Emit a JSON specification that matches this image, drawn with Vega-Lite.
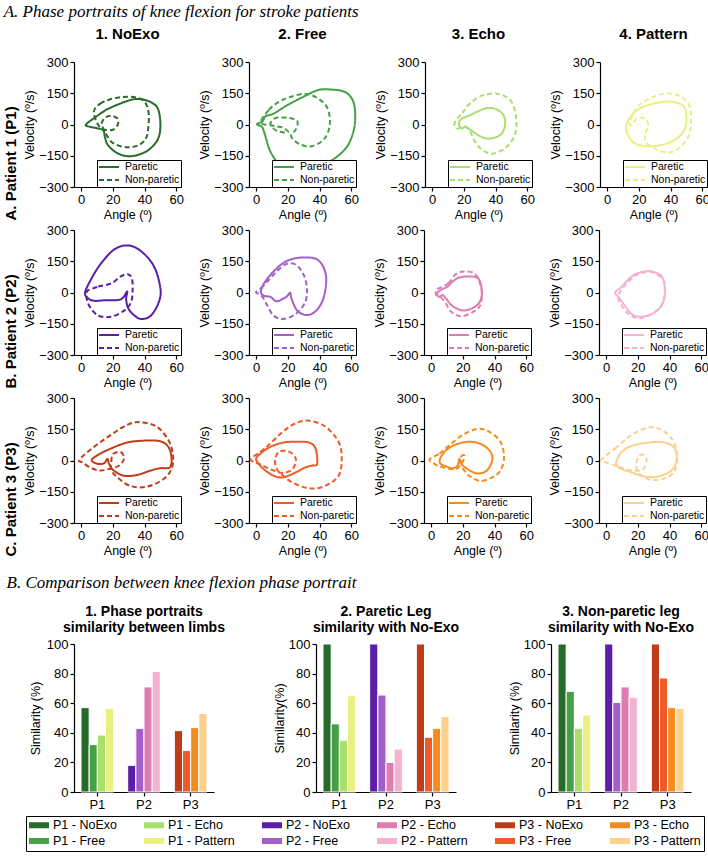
{
"$schema":"https://vega.github.io/schema/vega-lite/v6.json",
"background":"white",
"padding":{"left":3,"top":3,"right":0,"bottom":3},
"config":{
 "font":"Liberation Sans",
 "view":{"stroke":null},
 "axis":{"labelFont":"Liberation Sans","labelFontSize":13,"labelColor":"black","titleFont":"Liberation Sans","titleFontSize":12.5,"titleFontWeight":"normal","titleColor":"black","domainColor":"black","domainWidth":1.2,"tickColor":"black","tickWidth":1.2,"tickSize":4,"grid":false,"labelPadding":2,"titlePadding":2},
 "title":{"font":"Liberation Sans","fontSize":15,"fontWeight":"bold","color":"black","offset":14},
 "legend":{"orient":"bottom-right","offset":0,"strokeColor":"black","fillColor":"white","padding":1,"labelFont":"Liberation Sans","labelFontSize":10.5,"labelColor":"black","labelOffset":5,"symbolType":"stroke","symbolSize":400,"symbolStrokeWidth":2,"rowPadding":1,"clipHeight":12},
 "concat":{"spacing":14}
},
"datasets":{
"pp":[
{"p":"P1","c":"NoExo","l":"Paretic","i":0,"a":3,"v":0},{"p":"P1","c":"NoExo","l":"Paretic","i":1,"a":9,"v":35},{"p":"P1","c":"NoExo","l":"Paretic","i":2,"a":17,"v":75},{"p":"P1","c":"NoExo","l":"Paretic","i":3,"a":30,"v":115},{"p":"P1","c":"NoExo","l":"Paretic","i":4,"a":37,"v":122},{"p":"P1","c":"NoExo","l":"Paretic","i":5,"a":44,"v":107},{"p":"P1","c":"NoExo","l":"Paretic","i":6,"a":48.5,"v":75},{"p":"P1","c":"NoExo","l":"Paretic","i":7,"a":50,"v":0},{"p":"P1","c":"NoExo","l":"Paretic","i":8,"a":48.5,"v":-69},{"p":"P1","c":"NoExo","l":"Paretic","i":9,"a":42,"v":-125},{"p":"P1","c":"NoExo","l":"Paretic","i":10,"a":32,"v":-152},{"p":"P1","c":"NoExo","l":"Paretic","i":11,"a":23.5,"v":-140},{"p":"P1","c":"NoExo","l":"Paretic","i":12,"a":17,"v":-100},{"p":"P1","c":"NoExo","l":"Paretic","i":13,"a":15,"v":-60},{"p":"P1","c":"NoExo","l":"Paretic","i":14,"a":14,"v":-28},{"p":"P1","c":"NoExo","l":"Paretic","i":15,"a":10,"v":-18},{"p":"P1","c":"NoExo","l":"Paretic","i":16,"a":5,"v":-10},
{"p":"P1","c":"NoExo","l":"Non-paretic","i":0,"a":8,"v":60},{"p":"P1","c":"NoExo","l":"Non-paretic","i":1,"a":12,"v":100},{"p":"P1","c":"NoExo","l":"Non-paretic","i":2,"a":18,"v":120},{"p":"P1","c":"NoExo","l":"Non-paretic","i":3,"a":26,"v":132},{"p":"P1","c":"NoExo","l":"Non-paretic","i":4,"a":34,"v":131},{"p":"P1","c":"NoExo","l":"Non-paretic","i":5,"a":40,"v":110},{"p":"P1","c":"NoExo","l":"Non-paretic","i":6,"a":42.5,"v":60},{"p":"P1","c":"NoExo","l":"Non-paretic","i":7,"a":42.5,"v":-5},{"p":"P1","c":"NoExo","l":"Non-paretic","i":8,"a":41,"v":-65},{"p":"P1","c":"NoExo","l":"Non-paretic","i":9,"a":36,"v":-100},{"p":"P1","c":"NoExo","l":"Non-paretic","i":10,"a":28,"v":-109},{"p":"P1","c":"NoExo","l":"Non-paretic","i":11,"a":20,"v":-88},{"p":"P1","c":"NoExo","l":"Non-paretic","i":12,"a":16,"v":-50},{"p":"P1","c":"NoExo","l":"Non-paretic","i":13,"a":14,"v":-20},{"p":"P1","c":"NoExo","l":"Non-paretic","i":14,"a":13,"v":5},{"p":"P1","c":"NoExo","l":"Non-paretic","i":15,"a":15,"v":32},{"p":"P1","c":"NoExo","l":"Non-paretic","i":16,"a":19,"v":42},{"p":"P1","c":"NoExo","l":"Non-paretic","i":17,"a":23,"v":28},{"p":"P1","c":"NoExo","l":"Non-paretic","i":18,"a":23,"v":-3},{"p":"P1","c":"NoExo","l":"Non-paretic","i":19,"a":20,"v":-25},{"p":"P1","c":"NoExo","l":"Non-paretic","i":20,"a":15,"v":-25},{"p":"P1","c":"NoExo","l":"Non-paretic","i":21,"a":11,"v":-5},
{"p":"P1","c":"Free","l":"Paretic","i":0,"a":0.5,"v":2},{"p":"P1","c":"Free","l":"Paretic","i":1,"a":4,"v":15},{"p":"P1","c":"Free","l":"Paretic","i":2,"a":6,"v":40},{"p":"P1","c":"Free","l":"Paretic","i":3,"a":11,"v":52},{"p":"P1","c":"Free","l":"Paretic","i":4,"a":19,"v":90},{"p":"P1","c":"Free","l":"Paretic","i":5,"a":29,"v":130},{"p":"P1","c":"Free","l":"Paretic","i":6,"a":39,"v":165},{"p":"P1","c":"Free","l":"Paretic","i":7,"a":47,"v":168},{"p":"P1","c":"Free","l":"Paretic","i":8,"a":56,"v":156},{"p":"P1","c":"Free","l":"Paretic","i":9,"a":61,"v":115},{"p":"P1","c":"Free","l":"Paretic","i":10,"a":62.5,"v":50},{"p":"P1","c":"Free","l":"Paretic","i":11,"a":61.5,"v":-30},{"p":"P1","c":"Free","l":"Paretic","i":12,"a":57,"v":-110},{"p":"P1","c":"Free","l":"Paretic","i":13,"a":48,"v":-170},{"p":"P1","c":"Free","l":"Paretic","i":14,"a":37,"v":-205},{"p":"P1","c":"Free","l":"Paretic","i":15,"a":25,"v":-212},{"p":"P1","c":"Free","l":"Paretic","i":16,"a":15,"v":-190},{"p":"P1","c":"Free","l":"Paretic","i":17,"a":9,"v":-130},{"p":"P1","c":"Free","l":"Paretic","i":18,"a":6,"v":-60},{"p":"P1","c":"Free","l":"Paretic","i":19,"a":4,"v":-15},{"p":"P1","c":"Free","l":"Paretic","i":20,"a":2,"v":-5},
{"p":"P1","c":"Free","l":"Non-paretic","i":0,"a":3,"v":10},{"p":"P1","c":"Free","l":"Non-paretic","i":1,"a":8,"v":70},{"p":"P1","c":"Free","l":"Non-paretic","i":2,"a":14,"v":107},{"p":"P1","c":"Free","l":"Non-paretic","i":3,"a":21,"v":131},{"p":"P1","c":"Free","l":"Non-paretic","i":4,"a":31,"v":147},{"p":"P1","c":"Free","l":"Non-paretic","i":5,"a":39,"v":125},{"p":"P1","c":"Free","l":"Non-paretic","i":6,"a":45,"v":78},{"p":"P1","c":"Free","l":"Non-paretic","i":7,"a":46.5,"v":0},{"p":"P1","c":"Free","l":"Non-paretic","i":8,"a":43,"v":-69},{"p":"P1","c":"Free","l":"Non-paretic","i":9,"a":35,"v":-104},{"p":"P1","c":"Free","l":"Non-paretic","i":10,"a":27,"v":-93},{"p":"P1","c":"Free","l":"Non-paretic","i":11,"a":22,"v":-55},{"p":"P1","c":"Free","l":"Non-paretic","i":12,"a":25,"v":-25},{"p":"P1","c":"Free","l":"Non-paretic","i":13,"a":26,"v":15},{"p":"P1","c":"Free","l":"Non-paretic","i":14,"a":20,"v":32},{"p":"P1","c":"Free","l":"Non-paretic","i":15,"a":12,"v":30},{"p":"P1","c":"Free","l":"Non-paretic","i":16,"a":9,"v":0},{"p":"P1","c":"Free","l":"Non-paretic","i":17,"a":13,"v":-30},{"p":"P1","c":"Free","l":"Non-paretic","i":18,"a":20,"v":-38},{"p":"P1","c":"Free","l":"Non-paretic","i":19,"a":17,"v":-15},{"p":"P1","c":"Free","l":"Non-paretic","i":20,"a":10,"v":-5},
{"p":"P1","c":"Echo","l":"Paretic","i":0,"a":17.5,"v":19},{"p":"P1","c":"Echo","l":"Paretic","i":1,"a":20,"v":33},{"p":"P1","c":"Echo","l":"Paretic","i":2,"a":24,"v":45},{"p":"P1","c":"Echo","l":"Paretic","i":3,"a":28,"v":60},{"p":"P1","c":"Echo","l":"Paretic","i":4,"a":34,"v":78},{"p":"P1","c":"Echo","l":"Paretic","i":5,"a":40,"v":75},{"p":"P1","c":"Echo","l":"Paretic","i":6,"a":45,"v":45},{"p":"P1","c":"Echo","l":"Paretic","i":7,"a":46,"v":-5},{"p":"P1","c":"Echo","l":"Paretic","i":8,"a":43,"v":-50},{"p":"P1","c":"Echo","l":"Paretic","i":9,"a":36,"v":-68},{"p":"P1","c":"Echo","l":"Paretic","i":10,"a":30,"v":-55},{"p":"P1","c":"Echo","l":"Paretic","i":11,"a":24,"v":-25},{"p":"P1","c":"Echo","l":"Paretic","i":12,"a":21,"v":-10},{"p":"P1","c":"Echo","l":"Paretic","i":13,"a":19,"v":-18},{"p":"P1","c":"Echo","l":"Paretic","i":14,"a":17,"v":-5},
{"p":"P1","c":"Echo","l":"Non-paretic","i":0,"a":16,"v":30},{"p":"P1","c":"Echo","l":"Non-paretic","i":1,"a":19,"v":55},{"p":"P1","c":"Echo","l":"Non-paretic","i":2,"a":23.6,"v":99},{"p":"P1","c":"Echo","l":"Non-paretic","i":3,"a":31.8,"v":140},{"p":"P1","c":"Echo","l":"Non-paretic","i":4,"a":42,"v":147},{"p":"P1","c":"Echo","l":"Non-paretic","i":5,"a":50,"v":110},{"p":"P1","c":"Echo","l":"Non-paretic","i":6,"a":53,"v":30},{"p":"P1","c":"Echo","l":"Non-paretic","i":7,"a":52.4,"v":-45},{"p":"P1","c":"Echo","l":"Non-paretic","i":8,"a":47,"v":-108},{"p":"P1","c":"Echo","l":"Non-paretic","i":9,"a":38,"v":-140},{"p":"P1","c":"Echo","l":"Non-paretic","i":10,"a":31,"v":-118},{"p":"P1","c":"Echo","l":"Non-paretic","i":11,"a":26.7,"v":-78},{"p":"P1","c":"Echo","l":"Non-paretic","i":12,"a":23.6,"v":-30},{"p":"P1","c":"Echo","l":"Non-paretic","i":13,"a":20,"v":-10},{"p":"P1","c":"Echo","l":"Non-paretic","i":14,"a":16,"v":-20},{"p":"P1","c":"Echo","l":"Non-paretic","i":15,"a":14,"v":0},
{"p":"P1","c":"Pattern","l":"Paretic","i":0,"a":12.5,"v":5},{"p":"P1","c":"Pattern","l":"Paretic","i":1,"a":15,"v":40},{"p":"P1","c":"Pattern","l":"Paretic","i":2,"a":20,"v":75},{"p":"P1","c":"Pattern","l":"Paretic","i":3,"a":28.7,"v":99},{"p":"P1","c":"Pattern","l":"Paretic","i":4,"a":39,"v":110},{"p":"P1","c":"Pattern","l":"Paretic","i":5,"a":47.5,"v":92},{"p":"P1","c":"Pattern","l":"Paretic","i":6,"a":50,"v":43},{"p":"P1","c":"Pattern","l":"Paretic","i":7,"a":48.5,"v":-29},{"p":"P1","c":"Pattern","l":"Paretic","i":8,"a":41,"v":-81},{"p":"P1","c":"Pattern","l":"Paretic","i":9,"a":29,"v":-104},{"p":"P1","c":"Pattern","l":"Paretic","i":10,"a":18,"v":-93},{"p":"P1","c":"Pattern","l":"Paretic","i":11,"a":13,"v":-50},{"p":"P1","c":"Pattern","l":"Paretic","i":12,"a":12,"v":-15},
{"p":"P1","c":"Pattern","l":"Non-paretic","i":0,"a":14,"v":10},{"p":"P1","c":"Pattern","l":"Non-paretic","i":1,"a":17,"v":55},{"p":"P1","c":"Pattern","l":"Non-paretic","i":2,"a":22,"v":105},{"p":"P1","c":"Pattern","l":"Non-paretic","i":3,"a":35,"v":147},{"p":"P1","c":"Pattern","l":"Non-paretic","i":4,"a":45,"v":139},{"p":"P1","c":"Pattern","l":"Non-paretic","i":5,"a":51.7,"v":92},{"p":"P1","c":"Pattern","l":"Non-paretic","i":6,"a":53,"v":11},{"p":"P1","c":"Pattern","l":"Non-paretic","i":7,"a":50.6,"v":-69},{"p":"P1","c":"Pattern","l":"Non-paretic","i":8,"a":43,"v":-125},{"p":"P1","c":"Pattern","l":"Non-paretic","i":9,"a":36,"v":-132},{"p":"P1","c":"Pattern","l":"Non-paretic","i":10,"a":28.7,"v":-110},{"p":"P1","c":"Pattern","l":"Non-paretic","i":11,"a":24.5,"v":-85},{"p":"P1","c":"Pattern","l":"Non-paretic","i":12,"a":24,"v":-45},{"p":"P1","c":"Pattern","l":"Non-paretic","i":13,"a":26,"v":-10},{"p":"P1","c":"Pattern","l":"Non-paretic","i":14,"a":25,"v":20},{"p":"P1","c":"Pattern","l":"Non-paretic","i":15,"a":21,"v":33},{"p":"P1","c":"Pattern","l":"Non-paretic","i":16,"a":17,"v":15},{"p":"P1","c":"Pattern","l":"Non-paretic","i":17,"a":16,"v":-5},
{"p":"P2","c":"NoExo","l":"Paretic","i":0,"a":2.5,"v":0},{"p":"P2","c":"NoExo","l":"Paretic","i":1,"a":6.6,"v":68},{"p":"P2","c":"NoExo","l":"Paretic","i":2,"a":12.8,"v":142},{"p":"P2","c":"NoExo","l":"Paretic","i":3,"a":21,"v":207},{"p":"P2","c":"NoExo","l":"Paretic","i":4,"a":29.4,"v":226},{"p":"P2","c":"NoExo","l":"Paretic","i":5,"a":37.7,"v":199},{"p":"P2","c":"NoExo","l":"Paretic","i":6,"a":46,"v":125},{"p":"P2","c":"NoExo","l":"Paretic","i":7,"a":50,"v":20},{"p":"P2","c":"NoExo","l":"Paretic","i":8,"a":49,"v":-46},{"p":"P2","c":"NoExo","l":"Paretic","i":9,"a":44,"v":-111},{"p":"P2","c":"NoExo","l":"Paretic","i":10,"a":37.7,"v":-127},{"p":"P2","c":"NoExo","l":"Paretic","i":11,"a":32.5,"v":-103},{"p":"P2","c":"NoExo","l":"Paretic","i":12,"a":29.4,"v":-70},{"p":"P2","c":"NoExo","l":"Paretic","i":13,"a":28.4,"v":-29},{"p":"P2","c":"NoExo","l":"Paretic","i":14,"a":29,"v":5},{"p":"P2","c":"NoExo","l":"Paretic","i":15,"a":25,"v":-33},{"p":"P2","c":"NoExo","l":"Paretic","i":16,"a":15,"v":-37},{"p":"P2","c":"NoExo","l":"Paretic","i":17,"a":8.7,"v":-40},{"p":"P2","c":"NoExo","l":"Paretic","i":18,"a":4.6,"v":-29},
{"p":"P2","c":"NoExo","l":"Non-paretic","i":0,"a":4.6,"v":11},{"p":"P2","c":"NoExo","l":"Non-paretic","i":1,"a":10.8,"v":28},{"p":"P2","c":"NoExo","l":"Non-paretic","i":2,"a":19,"v":44},{"p":"P2","c":"NoExo","l":"Non-paretic","i":3,"a":25,"v":77},{"p":"P2","c":"NoExo","l":"Non-paretic","i":4,"a":29.4,"v":88},{"p":"P2","c":"NoExo","l":"Non-paretic","i":5,"a":32,"v":68},{"p":"P2","c":"NoExo","l":"Non-paretic","i":6,"a":32.5,"v":11},{"p":"P2","c":"NoExo","l":"Non-paretic","i":7,"a":31.5,"v":-46},{"p":"P2","c":"NoExo","l":"Non-paretic","i":8,"a":27.3,"v":-86},{"p":"P2","c":"NoExo","l":"Non-paretic","i":9,"a":19,"v":-116},{"p":"P2","c":"NoExo","l":"Non-paretic","i":10,"a":10.8,"v":-111},{"p":"P2","c":"NoExo","l":"Non-paretic","i":11,"a":5.6,"v":-70},{"p":"P2","c":"NoExo","l":"Non-paretic","i":12,"a":3.5,"v":-29},{"p":"P2","c":"NoExo","l":"Non-paretic","i":13,"a":3.5,"v":0},
{"p":"P2","c":"Free","l":"Paretic","i":0,"a":3,"v":3},{"p":"P2","c":"Free","l":"Paretic","i":1,"a":5,"v":44},{"p":"P2","c":"Free","l":"Paretic","i":2,"a":11,"v":101},{"p":"P2","c":"Free","l":"Paretic","i":3,"a":19,"v":150},{"p":"P2","c":"Free","l":"Paretic","i":4,"a":29,"v":168},{"p":"P2","c":"Free","l":"Paretic","i":5,"a":39,"v":156},{"p":"P2","c":"Free","l":"Paretic","i":6,"a":44,"v":85},{"p":"P2","c":"Free","l":"Paretic","i":7,"a":43,"v":-13},{"p":"P2","c":"Free","l":"Paretic","i":8,"a":39,"v":-78},{"p":"P2","c":"Free","l":"Paretic","i":9,"a":33,"v":-108},{"p":"P2","c":"Free","l":"Paretic","i":10,"a":27,"v":-95},{"p":"P2","c":"Free","l":"Paretic","i":11,"a":24,"v":-62},{"p":"P2","c":"Free","l":"Paretic","i":12,"a":22,"v":-21},{"p":"P2","c":"Free","l":"Paretic","i":13,"a":21.4,"v":0},{"p":"P2","c":"Free","l":"Paretic","i":14,"a":19,"v":-21},{"p":"P2","c":"Free","l":"Paretic","i":15,"a":13,"v":-42},{"p":"P2","c":"Free","l":"Paretic","i":16,"a":9,"v":-21},{"p":"P2","c":"Free","l":"Paretic","i":17,"a":5,"v":-16},
{"p":"P2","c":"Free","l":"Non-paretic","i":0,"a":0,"v":3},{"p":"P2","c":"Free","l":"Non-paretic","i":1,"a":3,"v":20},{"p":"P2","c":"Free","l":"Non-paretic","i":2,"a":7,"v":52},{"p":"P2","c":"Free","l":"Non-paretic","i":3,"a":13,"v":101},{"p":"P2","c":"Free","l":"Non-paretic","i":4,"a":19,"v":137},{"p":"P2","c":"Free","l":"Non-paretic","i":5,"a":25,"v":134},{"p":"P2","c":"Free","l":"Non-paretic","i":6,"a":30,"v":85},{"p":"P2","c":"Free","l":"Non-paretic","i":7,"a":32,"v":20},{"p":"P2","c":"Free","l":"Non-paretic","i":8,"a":31,"v":-46},{"p":"P2","c":"Free","l":"Non-paretic","i":9,"a":25,"v":-103},{"p":"P2","c":"Free","l":"Non-paretic","i":10,"a":17,"v":-127},{"p":"P2","c":"Free","l":"Non-paretic","i":11,"a":11,"v":-111},{"p":"P2","c":"Free","l":"Non-paretic","i":12,"a":7,"v":-62},{"p":"P2","c":"Free","l":"Non-paretic","i":13,"a":4,"v":-21},{"p":"P2","c":"Free","l":"Non-paretic","i":14,"a":1,"v":-5},
{"p":"P2","c":"Echo","l":"Paretic","i":0,"a":4,"v":0},{"p":"P2","c":"Echo","l":"Paretic","i":1,"a":7,"v":16},{"p":"P2","c":"Echo","l":"Paretic","i":2,"a":10.4,"v":28},{"p":"P2","c":"Echo","l":"Paretic","i":3,"a":13.5,"v":52},{"p":"P2","c":"Echo","l":"Paretic","i":4,"a":17.7,"v":72},{"p":"P2","c":"Echo","l":"Paretic","i":5,"a":24,"v":77},{"p":"P2","c":"Echo","l":"Paretic","i":6,"a":30,"v":65},{"p":"P2","c":"Echo","l":"Paretic","i":7,"a":32,"v":3},{"p":"P2","c":"Echo","l":"Paretic","i":8,"a":30.6,"v":-46},{"p":"P2","c":"Echo","l":"Paretic","i":9,"a":26,"v":-75},{"p":"P2","c":"Echo","l":"Paretic","i":10,"a":19.8,"v":-86},{"p":"P2","c":"Echo","l":"Paretic","i":11,"a":13.5,"v":-65},{"p":"P2","c":"Echo","l":"Paretic","i":12,"a":9.4,"v":-29},{"p":"P2","c":"Echo","l":"Paretic","i":13,"a":7.3,"v":-13},{"p":"P2","c":"Echo","l":"Paretic","i":14,"a":5,"v":-20},{"p":"P2","c":"Echo","l":"Paretic","i":15,"a":3,"v":-8},
{"p":"P2","c":"Echo","l":"Non-paretic","i":0,"a":6,"v":23},{"p":"P2","c":"Echo","l":"Non-paretic","i":1,"a":11,"v":44},{"p":"P2","c":"Echo","l":"Non-paretic","i":2,"a":15.6,"v":88},{"p":"P2","c":"Echo","l":"Non-paretic","i":3,"a":21,"v":101},{"p":"P2","c":"Echo","l":"Non-paretic","i":4,"a":27,"v":93},{"p":"P2","c":"Echo","l":"Non-paretic","i":5,"a":30,"v":60},{"p":"P2","c":"Echo","l":"Non-paretic","i":6,"a":32,"v":3},{"p":"P2","c":"Echo","l":"Non-paretic","i":7,"a":31,"v":-62},{"p":"P2","c":"Echo","l":"Non-paretic","i":8,"a":26,"v":-95},{"p":"P2","c":"Echo","l":"Non-paretic","i":9,"a":18.8,"v":-114},{"p":"P2","c":"Echo","l":"Non-paretic","i":10,"a":12.5,"v":-91},{"p":"P2","c":"Echo","l":"Non-paretic","i":11,"a":9.4,"v":-54},{"p":"P2","c":"Echo","l":"Non-paretic","i":12,"a":6,"v":-21},{"p":"P2","c":"Echo","l":"Non-paretic","i":13,"a":3,"v":-5},{"p":"P2","c":"Echo","l":"Non-paretic","i":14,"a":3.5,"v":16},
{"p":"P2","c":"Pattern","l":"Paretic","i":0,"a":5.6,"v":0},{"p":"P2","c":"Pattern","l":"Paretic","i":1,"a":9.8,"v":28},{"p":"P2","c":"Pattern","l":"Paretic","i":2,"a":16,"v":77},{"p":"P2","c":"Pattern","l":"Paretic","i":3,"a":22.4,"v":98},{"p":"P2","c":"Pattern","l":"Paretic","i":4,"a":28.7,"v":101},{"p":"P2","c":"Pattern","l":"Paretic","i":5,"a":35,"v":77},{"p":"P2","c":"Pattern","l":"Paretic","i":6,"a":37,"v":20},{"p":"P2","c":"Pattern","l":"Paretic","i":7,"a":36,"v":-46},{"p":"P2","c":"Pattern","l":"Paretic","i":8,"a":30.8,"v":-95},{"p":"P2","c":"Pattern","l":"Paretic","i":9,"a":22.4,"v":-116},{"p":"P2","c":"Pattern","l":"Paretic","i":10,"a":16,"v":-103},{"p":"P2","c":"Pattern","l":"Paretic","i":11,"a":10.9,"v":-54},{"p":"P2","c":"Pattern","l":"Paretic","i":12,"a":7.7,"v":-21},
{"p":"P2","c":"Pattern","l":"Non-paretic","i":0,"a":8.8,"v":3},{"p":"P2","c":"Pattern","l":"Non-paretic","i":1,"a":14,"v":52},{"p":"P2","c":"Pattern","l":"Non-paretic","i":2,"a":20.3,"v":88},{"p":"P2","c":"Pattern","l":"Non-paretic","i":3,"a":28.7,"v":98},{"p":"P2","c":"Pattern","l":"Non-paretic","i":4,"a":36,"v":60},{"p":"P2","c":"Pattern","l":"Non-paretic","i":5,"a":37,"v":3},{"p":"P2","c":"Pattern","l":"Non-paretic","i":6,"a":35,"v":-62},{"p":"P2","c":"Pattern","l":"Non-paretic","i":7,"a":28.7,"v":-103},{"p":"P2","c":"Pattern","l":"Non-paretic","i":8,"a":20.3,"v":-124},{"p":"P2","c":"Pattern","l":"Non-paretic","i":9,"a":14,"v":-103},{"p":"P2","c":"Pattern","l":"Non-paretic","i":10,"a":9.8,"v":-62},{"p":"P2","c":"Pattern","l":"Non-paretic","i":11,"a":7.7,"v":-29},
{"p":"P3","c":"NoExo","l":"Paretic","i":0,"a":6.6,"v":0},{"p":"P3","c":"NoExo","l":"Paretic","i":1,"a":10,"v":24},{"p":"P3","c":"NoExo","l":"Paretic","i":2,"a":18.6,"v":57},{"p":"P3","c":"NoExo","l":"Paretic","i":3,"a":29,"v":86},{"p":"P3","c":"NoExo","l":"Paretic","i":4,"a":39,"v":95},{"p":"P3","c":"NoExo","l":"Paretic","i":5,"a":49.7,"v":93},{"p":"P3","c":"NoExo","l":"Paretic","i":6,"a":55,"v":65},{"p":"P3","c":"NoExo","l":"Paretic","i":7,"a":57,"v":16},{"p":"P3","c":"NoExo","l":"Paretic","i":8,"a":56,"v":-33},{"p":"P3","c":"NoExo","l":"Paretic","i":9,"a":49.7,"v":-37},{"p":"P3","c":"NoExo","l":"Paretic","i":10,"a":43.5,"v":-49},{"p":"P3","c":"NoExo","l":"Paretic","i":11,"a":35,"v":-70},{"p":"P3","c":"NoExo","l":"Paretic","i":12,"a":27,"v":-73},{"p":"P3","c":"NoExo","l":"Paretic","i":13,"a":20.7,"v":-49},{"p":"P3","c":"NoExo","l":"Paretic","i":14,"a":17.6,"v":-16},{"p":"P3","c":"NoExo","l":"Paretic","i":15,"a":16.6,"v":8},{"p":"P3","c":"NoExo","l":"Paretic","i":16,"a":14.5,"v":-13},{"p":"P3","c":"NoExo","l":"Paretic","i":17,"a":10.4,"v":-16},
{"p":"P3","c":"NoExo","l":"Non-paretic","i":0,"a":-1,"v":5},{"p":"P3","c":"NoExo","l":"Non-paretic","i":1,"a":8,"v":65},{"p":"P3","c":"NoExo","l":"Non-paretic","i":2,"a":18.6,"v":122},{"p":"P3","c":"NoExo","l":"Non-paretic","i":3,"a":29,"v":171},{"p":"P3","c":"NoExo","l":"Non-paretic","i":4,"a":37,"v":184},{"p":"P3","c":"NoExo","l":"Non-paretic","i":5,"a":47.6,"v":163},{"p":"P3","c":"NoExo","l":"Non-paretic","i":6,"a":55,"v":98},{"p":"P3","c":"NoExo","l":"Non-paretic","i":7,"a":58,"v":24},{"p":"P3","c":"NoExo","l":"Non-paretic","i":8,"a":57,"v":-41},{"p":"P3","c":"NoExo","l":"Non-paretic","i":9,"a":51.8,"v":-90},{"p":"P3","c":"NoExo","l":"Non-paretic","i":10,"a":41.4,"v":-126},{"p":"P3","c":"NoExo","l":"Non-paretic","i":11,"a":31,"v":-122},{"p":"P3","c":"NoExo","l":"Non-paretic","i":12,"a":22.8,"v":-81},{"p":"P3","c":"NoExo","l":"Non-paretic","i":13,"a":19,"v":-45},{"p":"P3","c":"NoExo","l":"Non-paretic","i":14,"a":19,"v":-10},{"p":"P3","c":"NoExo","l":"Non-paretic","i":15,"a":20,"v":30},{"p":"P3","c":"NoExo","l":"Non-paretic","i":16,"a":25,"v":41},{"p":"P3","c":"NoExo","l":"Non-paretic","i":17,"a":27,"v":8},{"p":"P3","c":"NoExo","l":"Non-paretic","i":18,"a":24,"v":-24},{"p":"P3","c":"NoExo","l":"Non-paretic","i":19,"a":18,"v":-40},{"p":"P3","c":"NoExo","l":"Non-paretic","i":20,"a":12,"v":-48},{"p":"P3","c":"NoExo","l":"Non-paretic","i":21,"a":6,"v":-35},{"p":"P3","c":"NoExo","l":"Non-paretic","i":22,"a":1,"v":-10},
{"p":"P3","c":"Free","l":"Paretic","i":0,"a":0,"v":8},{"p":"P3","c":"Free","l":"Paretic","i":1,"a":2.7,"v":33},{"p":"P3","c":"Free","l":"Paretic","i":2,"a":8.8,"v":65},{"p":"P3","c":"Free","l":"Paretic","i":3,"a":17,"v":86},{"p":"P3","c":"Free","l":"Paretic","i":4,"a":25,"v":90},{"p":"P3","c":"Free","l":"Paretic","i":5,"a":33.4,"v":86},{"p":"P3","c":"Free","l":"Paretic","i":6,"a":37.5,"v":57},{"p":"P3","c":"Free","l":"Paretic","i":7,"a":38.5,"v":-16},{"p":"P3","c":"Free","l":"Paretic","i":8,"a":35.5,"v":-24},{"p":"P3","c":"Free","l":"Paretic","i":9,"a":31,"v":-33},{"p":"P3","c":"Free","l":"Paretic","i":10,"a":25,"v":-57},{"p":"P3","c":"Free","l":"Paretic","i":11,"a":17,"v":-81},{"p":"P3","c":"Free","l":"Paretic","i":12,"a":11,"v":-73},{"p":"P3","c":"Free","l":"Paretic","i":13,"a":4.7,"v":-41},{"p":"P3","c":"Free","l":"Paretic","i":14,"a":1.6,"v":-16},
{"p":"P3","c":"Free","l":"Non-paretic","i":0,"a":-3.5,"v":5},{"p":"P3","c":"Free","l":"Non-paretic","i":1,"a":2.7,"v":41},{"p":"P3","c":"Free","l":"Non-paretic","i":2,"a":8.8,"v":81},{"p":"P3","c":"Free","l":"Non-paretic","i":3,"a":17,"v":139},{"p":"P3","c":"Free","l":"Non-paretic","i":4,"a":25,"v":179},{"p":"P3","c":"Free","l":"Non-paretic","i":5,"a":33.4,"v":191},{"p":"P3","c":"Free","l":"Non-paretic","i":6,"a":43.6,"v":163},{"p":"P3","c":"Free","l":"Non-paretic","i":7,"a":52,"v":90},{"p":"P3","c":"Free","l":"Non-paretic","i":8,"a":54,"v":8},{"p":"P3","c":"Free","l":"Non-paretic","i":9,"a":52,"v":-73},{"p":"P3","c":"Free","l":"Non-paretic","i":10,"a":43.6,"v":-122},{"p":"P3","c":"Free","l":"Non-paretic","i":11,"a":33.4,"v":-134},{"p":"P3","c":"Free","l":"Non-paretic","i":12,"a":23,"v":-106},{"p":"P3","c":"Free","l":"Non-paretic","i":13,"a":17,"v":-73},{"p":"P3","c":"Free","l":"Non-paretic","i":14,"a":13,"v":-40},{"p":"P3","c":"Free","l":"Non-paretic","i":15,"a":12,"v":8},{"p":"P3","c":"Free","l":"Non-paretic","i":16,"a":15,"v":44},{"p":"P3","c":"Free","l":"Non-paretic","i":17,"a":21,"v":41},{"p":"P3","c":"Free","l":"Non-paretic","i":18,"a":25,"v":8},{"p":"P3","c":"Free","l":"Non-paretic","i":19,"a":23,"v":-41},{"p":"P3","c":"Free","l":"Non-paretic","i":20,"a":17,"v":-60},{"p":"P3","c":"Free","l":"Non-paretic","i":21,"a":10,"v":-45},{"p":"P3","c":"Free","l":"Non-paretic","i":22,"a":3,"v":-20},
{"p":"P3","c":"Echo","l":"Paretic","i":0,"a":5.6,"v":8},{"p":"P3","c":"Echo","l":"Paretic","i":1,"a":9.4,"v":49},{"p":"P3","c":"Echo","l":"Paretic","i":2,"a":15.6,"v":77},{"p":"P3","c":"Echo","l":"Paretic","i":3,"a":24,"v":90},{"p":"P3","c":"Echo","l":"Paretic","i":4,"a":32,"v":77},{"p":"P3","c":"Echo","l":"Paretic","i":5,"a":37.5,"v":41},{"p":"P3","c":"Echo","l":"Paretic","i":6,"a":38.5,"v":0},{"p":"P3","c":"Echo","l":"Paretic","i":7,"a":35,"v":-49},{"p":"P3","c":"Echo","l":"Paretic","i":8,"a":29,"v":-62},{"p":"P3","c":"Echo","l":"Paretic","i":9,"a":23,"v":-41},{"p":"P3","c":"Echo","l":"Paretic","i":10,"a":19,"v":-16},{"p":"P3","c":"Echo","l":"Paretic","i":11,"a":17.7,"v":8},{"p":"P3","c":"Echo","l":"Paretic","i":12,"a":16.7,"v":-24},{"p":"P3","c":"Echo","l":"Paretic","i":13,"a":13.5,"v":-37},{"p":"P3","c":"Echo","l":"Paretic","i":14,"a":9.4,"v":-28},{"p":"P3","c":"Echo","l":"Paretic","i":15,"a":6,"v":-16},
{"p":"P3","c":"Echo","l":"Non-paretic","i":0,"a":-1,"v":5},{"p":"P3","c":"Echo","l":"Non-paretic","i":1,"a":5.2,"v":33},{"p":"P3","c":"Echo","l":"Non-paretic","i":2,"a":11.5,"v":73},{"p":"P3","c":"Echo","l":"Non-paretic","i":3,"a":19.8,"v":122},{"p":"P3","c":"Echo","l":"Non-paretic","i":4,"a":29,"v":151},{"p":"P3","c":"Echo","l":"Non-paretic","i":5,"a":36.5,"v":139},{"p":"P3","c":"Echo","l":"Non-paretic","i":6,"a":43.7,"v":90},{"p":"P3","c":"Echo","l":"Non-paretic","i":7,"a":46,"v":16},{"p":"P3","c":"Echo","l":"Non-paretic","i":8,"a":43.7,"v":-49},{"p":"P3","c":"Echo","l":"Non-paretic","i":9,"a":38.5,"v":-81},{"p":"P3","c":"Echo","l":"Non-paretic","i":10,"a":31,"v":-98},{"p":"P3","c":"Echo","l":"Non-paretic","i":11,"a":24,"v":-73},{"p":"P3","c":"Echo","l":"Non-paretic","i":12,"a":19.8,"v":-33},{"p":"P3","c":"Echo","l":"Non-paretic","i":13,"a":18.8,"v":16},{"p":"P3","c":"Echo","l":"Non-paretic","i":14,"a":21,"v":24},{"p":"P3","c":"Echo","l":"Non-paretic","i":15,"a":19.8,"v":-8},{"p":"P3","c":"Echo","l":"Non-paretic","i":16,"a":15.6,"v":-41},{"p":"P3","c":"Echo","l":"Non-paretic","i":17,"a":7.3,"v":-33},{"p":"P3","c":"Echo","l":"Non-paretic","i":18,"a":2,"v":-16},
{"p":"P3","c":"Pattern","l":"Paretic","i":0,"a":6.7,"v":0},{"p":"P3","c":"Pattern","l":"Paretic","i":1,"a":9.8,"v":41},{"p":"P3","c":"Pattern","l":"Paretic","i":2,"a":16,"v":70},{"p":"P3","c":"Pattern","l":"Paretic","i":3,"a":26.6,"v":86},{"p":"P3","c":"Pattern","l":"Paretic","i":4,"a":37,"v":86},{"p":"P3","c":"Pattern","l":"Paretic","i":5,"a":43.3,"v":57},{"p":"P3","c":"Pattern","l":"Paretic","i":6,"a":44.4,"v":0},{"p":"P3","c":"Pattern","l":"Paretic","i":7,"a":41,"v":-49},{"p":"P3","c":"Pattern","l":"Paretic","i":8,"a":32.8,"v":-77},{"p":"P3","c":"Pattern","l":"Paretic","i":9,"a":24.5,"v":-77},{"p":"P3","c":"Pattern","l":"Paretic","i":10,"a":16,"v":-57},{"p":"P3","c":"Pattern","l":"Paretic","i":11,"a":9.8,"v":-41},{"p":"P3","c":"Pattern","l":"Paretic","i":12,"a":6.7,"v":-24},
{"p":"P3","c":"Pattern","l":"Non-paretic","i":0,"a":-3,"v":5},{"p":"P3","c":"Pattern","l":"Non-paretic","i":1,"a":5.6,"v":57},{"p":"P3","c":"Pattern","l":"Non-paretic","i":2,"a":16,"v":122},{"p":"P3","c":"Pattern","l":"Non-paretic","i":3,"a":26.6,"v":158},{"p":"P3","c":"Pattern","l":"Non-paretic","i":4,"a":35,"v":147},{"p":"P3","c":"Pattern","l":"Non-paretic","i":5,"a":42,"v":98},{"p":"P3","c":"Pattern","l":"Non-paretic","i":6,"a":45,"v":24},{"p":"P3","c":"Pattern","l":"Non-paretic","i":7,"a":43.3,"v":-49},{"p":"P3","c":"Pattern","l":"Non-paretic","i":8,"a":37,"v":-86},{"p":"P3","c":"Pattern","l":"Non-paretic","i":9,"a":28.7,"v":-93},{"p":"P3","c":"Pattern","l":"Non-paretic","i":10,"a":22.4,"v":-73},{"p":"P3","c":"Pattern","l":"Non-paretic","i":11,"a":19,"v":-33},{"p":"P3","c":"Pattern","l":"Non-paretic","i":12,"a":20.3,"v":16},{"p":"P3","c":"Pattern","l":"Non-paretic","i":13,"a":23.4,"v":28},{"p":"P3","c":"Pattern","l":"Non-paretic","i":14,"a":25.5,"v":0},{"p":"P3","c":"Pattern","l":"Non-paretic","i":15,"a":23.4,"v":-41},{"p":"P3","c":"Pattern","l":"Non-paretic","i":16,"a":18,"v":-49},{"p":"P3","c":"Pattern","l":"Non-paretic","i":17,"a":12,"v":-41},{"p":"P3","c":"Pattern","l":"Non-paretic","i":18,"a":5.6,"v":-24},{"p":"P3","c":"Pattern","l":"Non-paretic","i":19,"a":-0.6,"v":-8}
],
"bars":[
{"g":1,"p":"P1","c":"NoExo","k":"P1 - NoExo","s":57},{"g":1,"p":"P1","c":"Free","k":"P1 - Free","s":32},{"g":1,"p":"P1","c":"Echo","k":"P1 - Echo","s":38.5},{"g":1,"p":"P1","c":"Pattern","k":"P1 - Pattern","s":56.5},
{"g":1,"p":"P2","c":"NoExo","k":"P2 - NoExo","s":18},{"g":1,"p":"P2","c":"Free","k":"P2 - Free","s":43},{"g":1,"p":"P2","c":"Echo","k":"P2 - Echo","s":71},{"g":1,"p":"P2","c":"Pattern","k":"P2 - Pattern","s":81.5},
{"g":1,"p":"P3","c":"NoExo","k":"P3 - NoExo","s":41.5},{"g":1,"p":"P3","c":"Free","k":"P3 - Free","s":28},{"g":1,"p":"P3","c":"Echo","k":"P3 - Echo","s":43.5},{"g":1,"p":"P3","c":"Pattern","k":"P3 - Pattern","s":53},
{"g":2,"p":"P1","c":"NoExo","k":"P1 - NoExo","s":100},{"g":2,"p":"P1","c":"Free","k":"P1 - Free","s":46},{"g":2,"p":"P1","c":"Echo","k":"P1 - Echo","s":35},{"g":2,"p":"P1","c":"Pattern","k":"P1 - Pattern","s":65},
{"g":2,"p":"P2","c":"NoExo","k":"P2 - NoExo","s":100},{"g":2,"p":"P2","c":"Free","k":"P2 - Free","s":65.5},{"g":2,"p":"P2","c":"Echo","k":"P2 - Echo","s":20},{"g":2,"p":"P2","c":"Pattern","k":"P2 - Pattern","s":29},
{"g":2,"p":"P3","c":"NoExo","k":"P3 - NoExo","s":100},{"g":2,"p":"P3","c":"Free","k":"P3 - Free","s":37},{"g":2,"p":"P3","c":"Echo","k":"P3 - Echo","s":43},{"g":2,"p":"P3","c":"Pattern","k":"P3 - Pattern","s":51},
{"g":3,"p":"P1","c":"NoExo","k":"P1 - NoExo","s":100},{"g":3,"p":"P1","c":"Free","k":"P1 - Free","s":68},{"g":3,"p":"P1","c":"Echo","k":"P1 - Echo","s":43},{"g":3,"p":"P1","c":"Pattern","k":"P1 - Pattern","s":52},
{"g":3,"p":"P2","c":"NoExo","k":"P2 - NoExo","s":100},{"g":3,"p":"P2","c":"Free","k":"P2 - Free","s":60.5},{"g":3,"p":"P2","c":"Echo","k":"P2 - Echo","s":71},{"g":3,"p":"P2","c":"Pattern","k":"P2 - Pattern","s":64},
{"g":3,"p":"P3","c":"NoExo","k":"P3 - NoExo","s":100},{"g":3,"p":"P3","c":"Free","k":"P3 - Free","s":77},{"g":3,"p":"P3","c":"Echo","k":"P3 - Echo","s":57},{"g":3,"p":"P3","c":"Pattern","k":"P3 - Pattern","s":56.5}
]
},
"vconcat":[
{
 "title":{"text":"A. Phase portraits of knee flexion for stroke patients","anchor":"start","font":"Liberation Serif","fontStyle":"italic","fontWeight":"normal","fontSize":17,"offset":6},
 "data":{"name":"pp"},
 "spacing":3,
 "vconcat":[
  {"title":{"text":"A. Patient 1 (P1)","orient":"left","offset":5},
   "hconcat":[
    {"title":"1. NoExo","width":107,"height":125,"transform":[{"filter":"datum.p=='P1'&&datum.c=='NoExo'"}],"mark":{"type":"line","interpolate":"cardinal-closed","strokeWidth":2},"encoding":{"x":{"field":"a","type":"quantitative","scale":{"domain":[-4.5,63],"nice":false},"axis":{"values":[0,20,40,60],"title":"Angle (º)"}},"y":{"field":"v","type":"quantitative","scale":{"domain":[-300,300],"nice":false},"axis":{"values":[-300,-150,0,150,300],"title":"Velocity (º/s)"}},"order":{"field":"i","type":"quantitative"},"color":{"field":"l","type":"nominal","title":null,"scale":{"domain":["Paretic","Non-paretic"],"range":["#2b6b2b","#2b6b2b"]}},"strokeDash":{"field":"l","type":"nominal","title":null,"scale":{"domain":["Paretic","Non-paretic"],"range":[[1,0],[5,3]]}}}},
    {"title":"2. Free","width":107,"height":125,"transform":[{"filter":"datum.p=='P1'&&datum.c=='Free'"}],"mark":{"type":"line","interpolate":"cardinal-closed","strokeWidth":2},"encoding":{"x":{"field":"a","type":"quantitative","scale":{"domain":[-4.5,63],"nice":false},"axis":{"values":[0,20,40,60],"title":"Angle (º)"}},"y":{"field":"v","type":"quantitative","scale":{"domain":[-300,300],"nice":false},"axis":{"values":[-300,-150,0,150,300],"title":"Velocity (º/s)"}},"order":{"field":"i","type":"quantitative"},"color":{"field":"l","type":"nominal","title":null,"scale":{"domain":["Paretic","Non-paretic"],"range":["#46a046","#46a046"]}},"strokeDash":{"field":"l","type":"nominal","title":null,"scale":{"domain":["Paretic","Non-paretic"],"range":[[1,0],[5,3]]}}}},
    {"title":"3. Echo","width":107,"height":125,"transform":[{"filter":"datum.p=='P1'&&datum.c=='Echo'"}],"mark":{"type":"line","interpolate":"cardinal-closed","strokeWidth":2},"encoding":{"x":{"field":"a","type":"quantitative","scale":{"domain":[-4.5,63],"nice":false},"axis":{"values":[0,20,40,60],"title":"Angle (º)"}},"y":{"field":"v","type":"quantitative","scale":{"domain":[-300,300],"nice":false},"axis":{"values":[-300,-150,0,150,300],"title":"Velocity (º/s)"}},"order":{"field":"i","type":"quantitative"},"color":{"field":"l","type":"nominal","title":null,"scale":{"domain":["Paretic","Non-paretic"],"range":["#a9df6b","#a9df6b"]}},"strokeDash":{"field":"l","type":"nominal","title":null,"scale":{"domain":["Paretic","Non-paretic"],"range":[[1,0],[5,3]]}}}},
    {"title":"4. Pattern","width":107,"height":125,"transform":[{"filter":"datum.p=='P1'&&datum.c=='Pattern'"}],"mark":{"type":"line","interpolate":"cardinal-closed","strokeWidth":2},"encoding":{"x":{"field":"a","type":"quantitative","scale":{"domain":[-4.5,63],"nice":false},"axis":{"values":[0,20,40,60],"title":"Angle (º)"}},"y":{"field":"v","type":"quantitative","scale":{"domain":[-300,300],"nice":false},"axis":{"values":[-300,-150,0,150,300],"title":"Velocity (º/s)"}},"order":{"field":"i","type":"quantitative"},"color":{"field":"l","type":"nominal","title":null,"scale":{"domain":["Paretic","Non-paretic"],"range":["#eaf080","#eaf080"]}},"strokeDash":{"field":"l","type":"nominal","title":null,"scale":{"domain":["Paretic","Non-paretic"],"range":[[1,0],[5,3]]}}}}
   ],
   "resolve":{"scale":{"color":"independent","strokeDash":"independent","x":"independent","y":"independent"}}
  },
  {"title":{"text":"B. Patient 2 (P2)","orient":"left","offset":5},
   "hconcat":[
    {"width":107,"height":125,"transform":[{"filter":"datum.p=='P2'&&datum.c=='NoExo'"}],"mark":{"type":"line","interpolate":"cardinal-closed","strokeWidth":2},"encoding":{"x":{"field":"a","type":"quantitative","scale":{"domain":[-4.5,63],"nice":false},"axis":{"values":[0,20,40,60],"title":"Angle (º)"}},"y":{"field":"v","type":"quantitative","scale":{"domain":[-300,300],"nice":false},"axis":{"values":[-300,-150,0,150,300],"title":"Velocity (º/s)"}},"order":{"field":"i","type":"quantitative"},"color":{"field":"l","type":"nominal","title":null,"scale":{"domain":["Paretic","Non-paretic"],"range":["#5a1fa6","#5a1fa6"]}},"strokeDash":{"field":"l","type":"nominal","title":null,"scale":{"domain":["Paretic","Non-paretic"],"range":[[1,0],[5,3]]}}}},
    {"width":107,"height":125,"transform":[{"filter":"datum.p=='P2'&&datum.c=='Free'"}],"mark":{"type":"line","interpolate":"cardinal-closed","strokeWidth":2},"encoding":{"x":{"field":"a","type":"quantitative","scale":{"domain":[-4.5,63],"nice":false},"axis":{"values":[0,20,40,60],"title":"Angle (º)"}},"y":{"field":"v","type":"quantitative","scale":{"domain":[-300,300],"nice":false},"axis":{"values":[-300,-150,0,150,300],"title":"Velocity (º/s)"}},"order":{"field":"i","type":"quantitative"},"color":{"field":"l","type":"nominal","title":null,"scale":{"domain":["Paretic","Non-paretic"],"range":["#a35fc9","#a35fc9"]}},"strokeDash":{"field":"l","type":"nominal","title":null,"scale":{"domain":["Paretic","Non-paretic"],"range":[[1,0],[5,3]]}}}},
    {"width":107,"height":125,"transform":[{"filter":"datum.p=='P2'&&datum.c=='Echo'"}],"mark":{"type":"line","interpolate":"cardinal-closed","strokeWidth":2},"encoding":{"x":{"field":"a","type":"quantitative","scale":{"domain":[-4.5,63],"nice":false},"axis":{"values":[0,20,40,60],"title":"Angle (º)"}},"y":{"field":"v","type":"quantitative","scale":{"domain":[-300,300],"nice":false},"axis":{"values":[-300,-150,0,150,300],"title":"Velocity (º/s)"}},"order":{"field":"i","type":"quantitative"},"color":{"field":"l","type":"nominal","title":null,"scale":{"domain":["Paretic","Non-paretic"],"range":["#e07bb0","#e07bb0"]}},"strokeDash":{"field":"l","type":"nominal","title":null,"scale":{"domain":["Paretic","Non-paretic"],"range":[[1,0],[5,3]]}}}},
    {"width":107,"height":125,"transform":[{"filter":"datum.p=='P2'&&datum.c=='Pattern'"}],"mark":{"type":"line","interpolate":"cardinal-closed","strokeWidth":2},"encoding":{"x":{"field":"a","type":"quantitative","scale":{"domain":[-4.5,63],"nice":false},"axis":{"values":[0,20,40,60],"title":"Angle (º)"}},"y":{"field":"v","type":"quantitative","scale":{"domain":[-300,300],"nice":false},"axis":{"values":[-300,-150,0,150,300],"title":"Velocity (º/s)"}},"order":{"field":"i","type":"quantitative"},"color":{"field":"l","type":"nominal","title":null,"scale":{"domain":["Paretic","Non-paretic"],"range":["#f5b1d2","#f5b1d2"]}},"strokeDash":{"field":"l","type":"nominal","title":null,"scale":{"domain":["Paretic","Non-paretic"],"range":[[1,0],[5,3]]}}}}
   ],
   "resolve":{"scale":{"color":"independent","strokeDash":"independent","x":"independent","y":"independent"}}
  },
  {"title":{"text":"C. Patient 3 (P3)","orient":"left","offset":5},
   "hconcat":[
    {"width":107,"height":125,"transform":[{"filter":"datum.p=='P3'&&datum.c=='NoExo'"}],"mark":{"type":"line","interpolate":"cardinal-closed","strokeWidth":2},"encoding":{"x":{"field":"a","type":"quantitative","scale":{"domain":[-4.5,63],"nice":false},"axis":{"values":[0,20,40,60],"title":"Angle (º)"}},"y":{"field":"v","type":"quantitative","scale":{"domain":[-300,300],"nice":false},"axis":{"values":[-300,-150,0,150,300],"title":"Velocity (º/s)"}},"order":{"field":"i","type":"quantitative"},"color":{"field":"l","type":"nominal","title":null,"scale":{"domain":["Paretic","Non-paretic"],"range":["#c03c18","#c03c18"]}},"strokeDash":{"field":"l","type":"nominal","title":null,"scale":{"domain":["Paretic","Non-paretic"],"range":[[1,0],[5,3]]}}}},
    {"width":107,"height":125,"transform":[{"filter":"datum.p=='P3'&&datum.c=='Free'"}],"mark":{"type":"line","interpolate":"cardinal-closed","strokeWidth":2},"encoding":{"x":{"field":"a","type":"quantitative","scale":{"domain":[-4.5,63],"nice":false},"axis":{"values":[0,20,40,60],"title":"Angle (º)"}},"y":{"field":"v","type":"quantitative","scale":{"domain":[-300,300],"nice":false},"axis":{"values":[-300,-150,0,150,300],"title":"Velocity (º/s)"}},"order":{"field":"i","type":"quantitative"},"color":{"field":"l","type":"nominal","title":null,"scale":{"domain":["Paretic","Non-paretic"],"range":["#f05a26","#f05a26"]}},"strokeDash":{"field":"l","type":"nominal","title":null,"scale":{"domain":["Paretic","Non-paretic"],"range":[[1,0],[5,3]]}}}},
    {"width":107,"height":125,"transform":[{"filter":"datum.p=='P3'&&datum.c=='Echo'"}],"mark":{"type":"line","interpolate":"cardinal-closed","strokeWidth":2},"encoding":{"x":{"field":"a","type":"quantitative","scale":{"domain":[-4.5,63],"nice":false},"axis":{"values":[0,20,40,60],"title":"Angle (º)"}},"y":{"field":"v","type":"quantitative","scale":{"domain":[-300,300],"nice":false},"axis":{"values":[-300,-150,0,150,300],"title":"Velocity (º/s)"}},"order":{"field":"i","type":"quantitative"},"color":{"field":"l","type":"nominal","title":null,"scale":{"domain":["Paretic","Non-paretic"],"range":["#f58b1f","#f58b1f"]}},"strokeDash":{"field":"l","type":"nominal","title":null,"scale":{"domain":["Paretic","Non-paretic"],"range":[[1,0],[5,3]]}}}},
    {"width":107,"height":125,"transform":[{"filter":"datum.p=='P3'&&datum.c=='Pattern'"}],"mark":{"type":"line","interpolate":"cardinal-closed","strokeWidth":2},"encoding":{"x":{"field":"a","type":"quantitative","scale":{"domain":[-4.5,63],"nice":false},"axis":{"values":[0,20,40,60],"title":"Angle (º)"}},"y":{"field":"v","type":"quantitative","scale":{"domain":[-300,300],"nice":false},"axis":{"values":[-300,-150,0,150,300],"title":"Velocity (º/s)"}},"order":{"field":"i","type":"quantitative"},"color":{"field":"l","type":"nominal","title":null,"scale":{"domain":["Paretic","Non-paretic"],"range":["#fdd08c","#fdd08c"]}},"strokeDash":{"field":"l","type":"nominal","title":null,"scale":{"domain":["Paretic","Non-paretic"],"range":[[1,0],[5,3]]}}}}
   ],
   "resolve":{"scale":{"color":"independent","strokeDash":"independent","x":"independent","y":"independent"}}
  }
 ],
 "resolve":{"scale":{"color":"independent","strokeDash":"independent","x":"independent","y":"independent"}}
},
{
 "title":{"text":"B. Comparison between knee flexion phase portrait","anchor":"start","font":"Liberation Serif","fontStyle":"italic","fontWeight":"normal","fontSize":17,"offset":13,"dx":-19},
 "data":{"name":"bars"},
 "spacing":48,
 "hconcat":[
  {"title":{"text":["1. Phase portraits","similarity between limbs"],"offset":3,"fontSize":14},"width":140,"height":148,"transform":[{"filter":"datum.g==1"}],"mark":{"type":"bar","stroke":"white","strokeWidth":1},"encoding":{"x":{"field":"p","type":"nominal","title":null,"axis":{"labelAngle":0},"scale":{"paddingInner":0.3,"paddingOuter":0.15}},"xOffset":{"field":"c","type":"nominal","sort":["NoExo","Free","Echo","Pattern"],"scale":{"paddingInner":0,"paddingOuter":0}},"y":{"field":"s","type":"quantitative","scale":{"domain":[0,100]},"axis":{"values":[0,20,40,60,80,100],"title":"Similarity (%)","titlePadding":4}},"color":{"field":"k","type":"nominal","title":null,"scale":{"domain":["P1 - NoExo","P1 - Free","P1 - Echo","P1 - Pattern","P2 - NoExo","P2 - Free","P2 - Echo","P2 - Pattern","P3 - NoExo","P3 - Free","P3 - Echo","P3 - Pattern"],"range":["#276b2b","#46a046","#a9df6b","#eaf080","#5a1fa6","#a35fc9","#e07bb0","#f5b1d2","#c03c18","#f05a26","#f58b1f","#fdd08c"]},"legend":{"orient":"none","legendX":-48,"legendY":172,"columns":6,"symbolType":"M-1,-0.3H1V0.3H-1Z","symbolSize":400,"symbolStrokeWidth":0,"labelFontSize":12.5,"labelOffset":4,"padding":3,"columnPadding":27,"rowPadding":3,"clipHeight":12,"strokeColor":"black","fillColor":"white"}}}},
  {"title":{"text":["2. Paretic Leg","similarity with No-Exo"],"offset":3,"fontSize":14},"width":140,"height":148,"transform":[{"filter":"datum.g==2"}],"mark":{"type":"bar","stroke":"white","strokeWidth":1},"encoding":{"x":{"field":"p","type":"nominal","title":null,"axis":{"labelAngle":0},"scale":{"paddingInner":0.3,"paddingOuter":0.15}},"xOffset":{"field":"c","type":"nominal","sort":["NoExo","Free","Echo","Pattern"],"scale":{"paddingInner":0,"paddingOuter":0}},"y":{"field":"s","type":"quantitative","scale":{"domain":[0,100]},"axis":{"values":[0,20,40,60,80,100],"title":"Similarity(%)"}},"color":{"field":"k","type":"nominal","title":null}}},
  {"title":{"text":["3. Non-paretic leg","similarity with No-Exo"],"offset":3,"fontSize":14},"width":140,"height":148,"transform":[{"filter":"datum.g==3"}],"mark":{"type":"bar","stroke":"white","strokeWidth":1},"encoding":{"x":{"field":"p","type":"nominal","title":null,"axis":{"labelAngle":0},"scale":{"paddingInner":0.3,"paddingOuter":0.15}},"xOffset":{"field":"c","type":"nominal","sort":["NoExo","Free","Echo","Pattern"],"scale":{"paddingInner":0,"paddingOuter":0}},"y":{"field":"s","type":"quantitative","scale":{"domain":[0,100]},"axis":{"values":[0,20,40,60,80,100],"title":"Similarity (%)"}},"color":{"field":"k","type":"nominal","title":null}}}
 ],
 "resolve":{"scale":{"x":"independent","y":"independent","xOffset":"independent"}}
}
],
"spacing":17,
"resolve":{"scale":{"color":"independent","strokeDash":"independent"}}
}
